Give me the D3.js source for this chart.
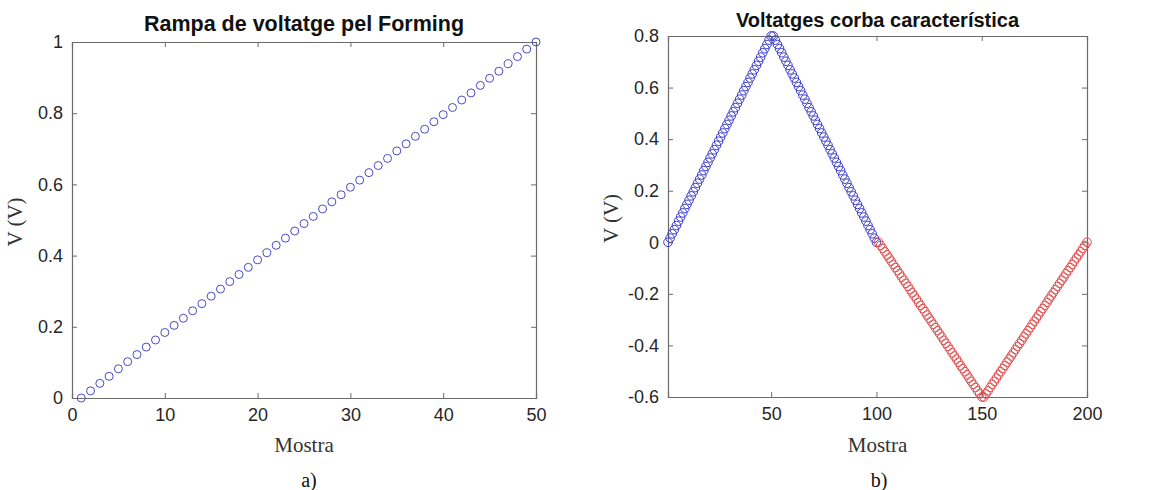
<!DOCTYPE html>
<html>
<head>
<meta charset="utf-8">
<script src="https://cdn.jsdelivr.net/npm/d3@7"></script>
<style>
  html, body { margin: 0; padding: 0; background: #fff; }
  svg { display: block; }
</style>
</head>
<body>
<svg id="chart" width="1165" height="490"></svg>
<script>
// ---------- DATA ----------
// Chart a): forming ramp, samples 1..50
const rampSamples = d3.range(1, 51);
const rampValues = [0, 0.020, 0.041, 0.061, 0.082, 0.102, 0.122, 0.143, 0.163, 0.184,
  0.204, 0.224, 0.245, 0.265, 0.286, 0.306, 0.327, 0.347, 0.367, 0.388,
  0.408, 0.429, 0.449, 0.469, 0.490, 0.510, 0.531, 0.551, 0.571, 0.592,
  0.612, 0.633, 0.653, 0.673, 0.694, 0.714, 0.735, 0.755, 0.776, 0.796,
  0.816, 0.837, 0.857, 0.878, 0.898, 0.918, 0.939, 0.959, 0.980, 1.000];

// Chart b): characteristic curve, samples 1..100 (blue), 101..200 (red)
const blueSamples = d3.range(1, 101);
const blueValues = [
  0.000, 0.016, 0.033, 0.049, 0.065, 0.082, 0.098, 0.114, 0.131, 0.147,
  0.163, 0.180, 0.196, 0.212, 0.229, 0.245, 0.261, 0.278, 0.294, 0.310,
  0.327, 0.343, 0.359, 0.376, 0.392, 0.408, 0.424, 0.441, 0.457, 0.473,
  0.490, 0.506, 0.522, 0.539, 0.555, 0.571, 0.588, 0.604, 0.620, 0.637,
  0.653, 0.669, 0.686, 0.702, 0.718, 0.735, 0.751, 0.767, 0.784, 0.800,
  0.800, 0.784, 0.767, 0.751, 0.735, 0.718, 0.702, 0.686, 0.669, 0.653,
  0.637, 0.620, 0.604, 0.588, 0.571, 0.555, 0.539, 0.522, 0.506, 0.490,
  0.473, 0.457, 0.441, 0.424, 0.408, 0.392, 0.376, 0.359, 0.343, 0.327,
  0.310, 0.294, 0.278, 0.261, 0.245, 0.229, 0.212, 0.196, 0.180, 0.163,
  0.147, 0.131, 0.114, 0.098, 0.082, 0.065, 0.049, 0.033, 0.016, 0.000];
const redSamples = d3.range(101, 201);
const redValues = [
  0.000, -0.012, -0.024, -0.037, -0.049, -0.061, -0.073, -0.086, -0.098, -0.110,
  -0.122, -0.135, -0.147, -0.159, -0.171, -0.184, -0.196, -0.208, -0.220, -0.233,
  -0.245, -0.257, -0.269, -0.282, -0.294, -0.306, -0.318, -0.331, -0.343, -0.355,
  -0.367, -0.380, -0.392, -0.404, -0.416, -0.429, -0.441, -0.453, -0.465, -0.478,
  -0.490, -0.502, -0.514, -0.527, -0.539, -0.551, -0.563, -0.576, -0.588, -0.600,
  -0.600, -0.588, -0.576, -0.563, -0.551, -0.539, -0.527, -0.514, -0.502, -0.490,
  -0.478, -0.465, -0.453, -0.441, -0.429, -0.416, -0.404, -0.392, -0.380, -0.367,
  -0.355, -0.343, -0.331, -0.318, -0.306, -0.294, -0.282, -0.269, -0.257, -0.245,
  -0.233, -0.220, -0.208, -0.196, -0.184, -0.171, -0.159, -0.147, -0.135, -0.122,
  -0.110, -0.098, -0.086, -0.073, -0.061, -0.049, -0.037, -0.024, -0.012, 0.000];

// Tick values and labels
const aXTicks = [0, 10, 20, 30, 40, 50];
const aYTicks = [0, 0.2, 0.4, 0.6, 0.8, 1];
const aYTickLabels = ["0", "0.2", "0.4", "0.6", "0.8", "1"];
const bXTicks = [50, 100, 150, 200];
const bYTicks = [-0.6, -0.4, -0.2, 0, 0.2, 0.4, 0.6, 0.8];
const bYTickLabels = ["-0.6", "-0.4", "-0.2", "0", "0.2", "0.4", "0.6", "0.8"];

// Texts
const titleA = "Rampa de voltatge pel Forming";
const titleB = "Voltatges corba característica";
const xLabel = "Mostra";
const yLabel = "V (V)";

// ---------- DRAW ----------
const svg = d3.select("#chart");
const AX = "#6b6b6b";
const TXT = "#262626";
const sans = "'Liberation Sans', Arial, sans-serif";
const serif = "'Liberation Serif', 'Times New Roman', serif";

function panel(cfg) {
  const g = svg.append("g");
  const x = d3.scaleLinear().domain(cfg.xDomain).range([cfg.left, cfg.right]);
  const y = d3.scaleLinear().domain(cfg.yDomain).range([cfg.bottom, cfg.top]);

  const xb = g.append("g").attr("transform", `translate(0,${cfg.bottom})`)
    .call(d3.axisBottom(x).tickValues(cfg.xTicks).tickSize(-5).tickPadding(10).tickFormat(d3.format("d")));
  const xt = g.append("g").attr("transform", `translate(0,${cfg.top})`)
    .call(d3.axisTop(x).tickValues(cfg.xTicks).tickSize(-5).tickFormat(""));
  const yl = g.append("g").attr("transform", `translate(${cfg.left},0)`)
    .call(d3.axisLeft(y).tickValues(cfg.yTicks).tickSize(-5).tickPadding(9)
      .tickFormat((d, i) => cfg.yTickLabels[i]));
  const yr = g.append("g").attr("transform", `translate(${cfg.right},0)`)
    .call(d3.axisRight(y).tickValues(cfg.yTicks).tickSize(-5).tickFormat(""));

  [xb, xt, yl, yr].forEach(a => {
    a.select(".domain").attr("stroke", AX).attr("stroke-width", 1.2);
    a.selectAll(".tick line").attr("stroke", AX).attr("stroke-width", 1);
    a.selectAll(".tick text").attr("fill", TXT).style("font-family", sans).style("font-size", cfg.tickSize + "px");
  });

  g.append("text").attr("x", (cfg.left + cfg.right) / 2).attr("y", cfg.titleY)
    .attr("text-anchor", "middle").style("font-family", sans).style("font-weight", "bold")
    .style("font-size", cfg.titleSize + "px").attr("fill", "#111").text(cfg.title);
  g.append("text").attr("x", (cfg.left + cfg.right) / 2).attr("y", 452)
    .attr("text-anchor", "middle").style("font-family", serif).style("font-size", "21px")
    .attr("fill", "#333").text(xLabel);
  g.append("text").attr("transform", `translate(${cfg.left - cfg.yLabOff},${(cfg.top + cfg.bottom) / 2 + 2}) rotate(-90)`)
    .attr("text-anchor", "middle").style("font-family", serif).style("font-size", "21px")
    .attr("fill", "#333").text(yLabel);
  g.append("text").attr("x", cfg.letterX).attr("y", 487)
    .attr("text-anchor", "middle").style("font-family", serif).style("font-size", "20px")
    .attr("fill", "#111").text(cfg.letter);

  cfg.series.forEach(s => {
    g.append("g").selectAll("circle").data(s.xs.map((xv, i) => [xv, s.ys[i]])).join("circle")
      .attr("cx", d => x(d[0])).attr("cy", d => y(d[1])).attr("r", cfg.markerR)
      .attr("fill", "none").attr("stroke", s.color).attr("stroke-width", 1);
  });
}

panel({
  left: 72, right: 536, top: 42, bottom: 398,
  xDomain: [0, 50], yDomain: [0, 1],
  xTicks: aXTicks, yTicks: aYTicks, yTickLabels: aYTickLabels,
  title: titleA, titleSize: 21.5, titleY: 31, tickSize: 18, markerR: 4,
  letter: "a)", letterX: 309, yLabOff: 50,
  series: [{ xs: rampSamples, ys: rampValues, color: "#4a4ac8" }]
});

panel({
  left: 668, right: 1087, top: 36, bottom: 397,
  xDomain: [1, 200], yDomain: [-0.6, 0.8],
  xTicks: bXTicks, yTicks: bYTicks, yTickLabels: bYTickLabels,
  title: titleB, titleSize: 20, titleY: 27, tickSize: 18, markerR: 4.3,
  letter: "b)", letterX: 879, yLabOff: 50,
  series: [
    { xs: blueSamples, ys: blueValues, color: "#3b3bd0" },
    { xs: redSamples, ys: redValues, color: "#e04848" }
  ]
});
</script>
</body>
</html>
